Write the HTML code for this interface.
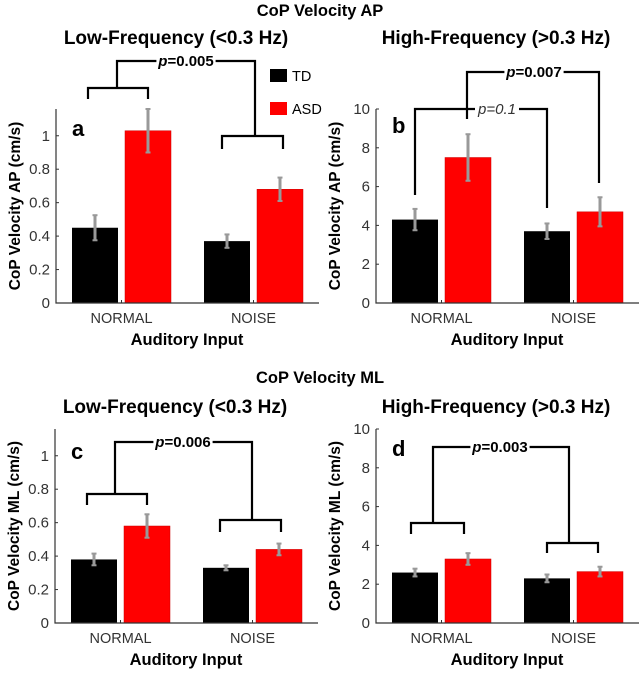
<!DOCTYPE html>
<html><head><meta charset="utf-8"><style>
html,body{margin:0;padding:0;background:#fff;}
svg{display:block;font-family:"Liberation Sans",Arial,sans-serif;}
</style></head><body>
<svg id="fig" width="640" height="676" viewBox="0 0 640 676" xmlns="http://www.w3.org/2000/svg">
<text x="320" y="16" text-anchor="middle" font-size="16.5" font-weight="bold">CoP Velocity AP</text>
<text x="320" y="383" text-anchor="middle" font-size="16.5" font-weight="bold">CoP Velocity ML</text>
<g>
<rect x="270" y="69" width="17" height="13" fill="#000"/>
<text x="292" y="81" font-size="14.5">TD</text>
<rect x="270" y="102" width="17" height="13" fill="#f00"/>
<text x="292" y="114" font-size="14.5">ASD</text>
</g>
</svg>
<script>
const categories = ["NORMAL", "NOISE"];
// panel a: AP low frequency
const tdA = [0.45, 0.37];
const asdA = [1.03, 0.68];
const tdErrA = [0.075, 0.04];
const asdErrA = [0.13, 0.07];
const ticksA = [0, 0.2, 0.4, 0.6, 0.8, 1];
// panel b: AP high frequency
const tdB = [4.3, 3.7];
const asdB = [7.5, 4.7];
const tdErrB = [0.55, 0.4];
const asdErrB = [1.2, 0.75];
const ticksB = [0, 2, 4, 6, 8, 10];
// panel c: ML low frequency
const tdC = [0.38, 0.33];
const asdC = [0.58, 0.44];
const tdErrC = [0.035, 0.015];
const asdErrC = [0.07, 0.035];
const ticksC = [0, 0.2, 0.4, 0.6, 0.8, 1];
// panel d: ML high frequency
const tdD = [2.6, 2.3];
const asdD = [3.3, 2.65];
const tdErrD = [0.2, 0.2];
const asdErrD = [0.3, 0.25];
const ticksD = [0, 2, 4, 6, 8, 10];

const NS = "http://www.w3.org/2000/svg";
const svg = document.getElementById("fig");
function mk(tag, attrs, parent) {
  const e = document.createElementNS(NS, tag);
  for (const k in attrs) e.setAttribute(k, attrs[k]);
  (parent || svg).appendChild(e);
  return e;
}

function panel(cfg) {
  const g = mk("g", {});
  
  
  const x0 = cfg.x0, base = cfg.base, H = 194, W = 263;
  const y = v => base - v / cfg.ymax * H;
  const cx = i => x0 + 65.5 + i * 132;
  const st = mk("text", {x: x0 + 120, y: cfg.subY, "text-anchor": "middle", "font-size": 19, "font-weight": "bold"}, g);
  st.textContent = cfg.subtitle;
  
  
  categories.forEach((c, i) => {
    const tdb = mk("rect", {x: cx(i) - 49.5, y: y(cfg.td[i]), width: 46, height: base - y(cfg.td[i]), fill: "#000"}, g);
    
    
    const asb = mk("rect", {x: cx(i) + 3.5, y: y(cfg.asd[i]), width: 46, height: base - y(cfg.asd[i]), fill: "#f00", stroke: "#c00", "stroke-width": 0.5}, g);
    
    
    [[cx(i) - 26.5, cfg.td[i], cfg.tdErr[i]], [cx(i) + 26.5, cfg.asd[i], cfg.asdErr[i]]].forEach(([ex, v, e], j) => {
      const eb = mk("g", {stroke: "#999", "stroke-width": 3}, g);
      
      
      mk("line", {x1: ex, x2: ex, y1: y(v - e), y2: y(v + e)}, eb);
      mk("line", {x1: ex - 2.5, x2: ex + 2.5, y1: y(v - e), y2: y(v - e), "stroke-width": 2}, eb);
      mk("line", {x1: ex - 2.5, x2: ex + 2.5, y1: y(v + e), y2: y(v + e), "stroke-width": 2}, eb);
    });
    const xl = mk("text", {x: cx(i), y: base + 20, "text-anchor": "middle", "font-size": 14.5, fill: "#333"}, g);
    xl.textContent = c;
    
    
  });
  const ax = mk("path", {d: `M${x0},${base - H}V${base}H${x0 + W}`, stroke: "#333", "stroke-width": 1.2, fill: "none"}, g);
  
  
  cfg.ticks.forEach(t => {
    mk("line", {x1: x0, x2: x0 + 3, y1: y(t), y2: y(t), stroke: "#333"}, g);
    const tl = mk("text", {x: x0 - 6, y: y(t) + 5, "text-anchor": "end", "font-size": 15, fill: "#333"}, g);
    tl.textContent = String(t);
    
    
  });
  [0, 1].forEach(i => mk("line", {x1: cx(i), x2: cx(i), y1: base, y2: base - 3, stroke: "#333"}, g));
  const xt = mk("text", {x: x0 + 131, y: base + 42, "text-anchor": "middle", "font-size": 16.5, "font-weight": "bold"}, g);
  xt.textContent = "Auditory Input";
  
  
  const yt = mk("text", {x: 0, y: 0, "text-anchor": "middle", "font-size": 15.5, "font-weight": "bold", transform: `translate(${x0 - 36},${base - 97}) rotate(-90)`}, g);
  yt.textContent = cfg.ytitle;
  
  
  const pl = mk("text", {x: x0 + 16, y: cfg.letterY, "font-size": 22, "font-weight": "bold"}, g);
  pl.textContent = cfg.letter;
  
  
  cfg.brackets.forEach(b => {
    const bg = mk("g", {}, g);
    
    
    mk("path", {d: b.d, stroke: "#000", "stroke-width": 2.2, fill: "none"}, bg);
    const tw = b.label.length * 7.6 + 6;
    mk("rect", {x: b.tx - tw / 2, y: b.ty - 8, width: tw, height: 16, fill: "#fff"}, bg);
    const pt = mk("text", {x: b.tx, y: b.ty + 5, "text-anchor": "middle", "font-size": 15, "font-weight": b.bold ? "bold" : "normal", fill: b.bold ? "#000" : "#333"}, bg);
    pt.innerHTML = '<tspan font-style="italic">p</tspan>' + b.label.slice(1);
    if (!b.bold) pt.setAttribute('font-style', 'italic');
    
    
  });
}

panel({letter: "a", x0: 56, base: 303, ymax: 1.16, subY: 44, letterY: 136, subtitle: "Low-Frequency (<0.3 Hz)", ytitle: "CoP Velocity AP (cm/s)",
  td: tdA, asd: asdA, tdErr: tdErrA, asdErr: asdErrA, ticks: ticksA,
  brackets: [{d: "M88,99V88H148V99M117,88V61H255V136M222,149V136H283V149", label: "p=0.005", tx: 186, ty: 61, bold: true}]});
panel({letter: "b", x0: 376, base: 303, ymax: 10, subY: 44, letterY: 133, subtitle: "High-Frequency (>0.3 Hz)", ytitle: "CoP Velocity AP (cm/s)",
  td: tdB, asd: asdB, tdErr: tdErrB, asdErr: asdErrB, ticks: ticksB,
  brackets: [{d: "M467,119V72H599V183", label: "p=0.007", tx: 534, ty: 72, bold: true},
             {d: "M415,195V109H547V208", label: "p=0.1", tx: 497, ty: 109, bold: false}]});
panel({letter: "c", x0: 55, base: 623, ymax: 1.16, subY: 413, letterY: 459, subtitle: "Low-Frequency (<0.3 Hz)", ytitle: "CoP Velocity ML (cm/s)",
  td: tdC, asd: asdC, tdErr: tdErrC, asdErr: asdErrC, ticks: ticksC,
  brackets: [{d: "M87,505V494H147V505M115,494V442H252V520M220,532V520H281V532", label: "p=0.006", tx: 183, ty: 442, bold: true}]});
panel({letter: "d", x0: 376, base: 623, ymax: 10, subY: 413, letterY: 456, subtitle: "High-Frequency (>0.3 Hz)", ytitle: "CoP Velocity ML (cm/s)",
  td: tdD, asd: asdD, tdErr: tdErrD, asdErr: asdErrD, ticks: ticksD,
  brackets: [{d: "M411,534V523H464V534M433,523V447H569V543M547,553V543H598V553", label: "p=0.003", tx: 500, ty: 447, bold: true}]});
</script>
</body></html>
